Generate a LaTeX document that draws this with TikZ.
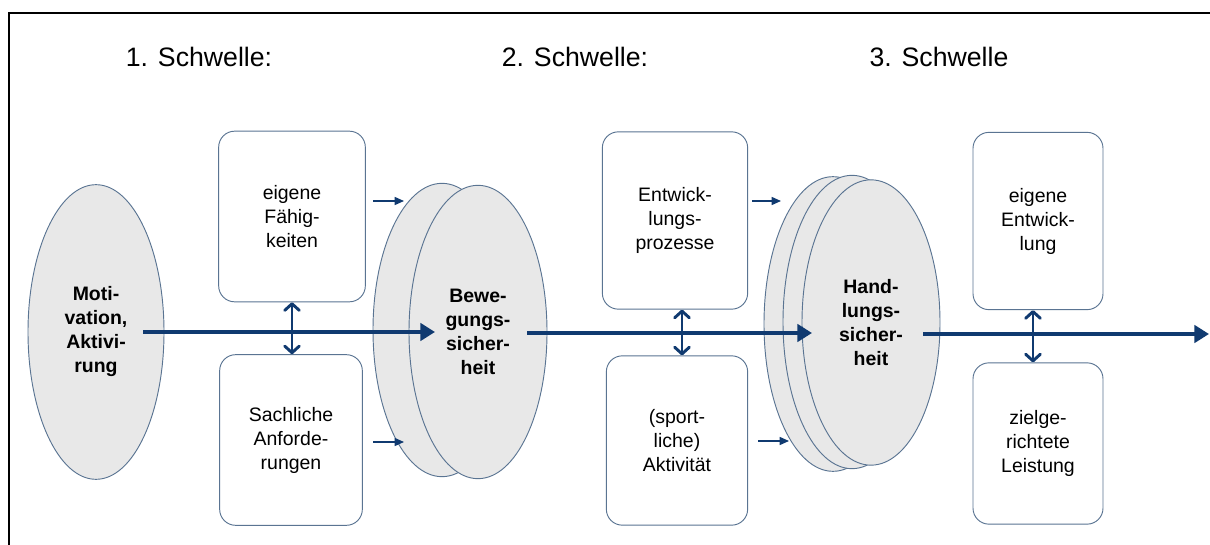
\documentclass[tikz,border=0pt]{standalone}
\usepackage{fontspec}
\setmainfont{Liberation Sans}
\usetikzlibrary{shapes.geometric,arrows.meta}
\definecolor{navy}{HTML}{103A70}
\definecolor{edge}{HTML}{5A7492}
\definecolor{ellfill}{HTML}{E8E8E8}
\tikzset{
  ell/.style={ellipse,draw=edge,fill=ellfill,line width=0.7pt,inner sep=0pt,
    minimum width=103.5pt,minimum height=218pt,align=center,
    font=\fontsize{14.6pt}{18pt}\selectfont\bfseries},
  box/.style={rectangle,rounded corners=12pt,draw=edge,fill=white,line width=0.7pt,
    inner sep=0pt,minimum width=108pt,minimum height=128pt,align=center,
    font=\fontsize{14.6pt}{18pt}\selectfont},
  title/.style={font=\fontsize{20pt}{24pt}\selectfont,inner sep=0pt},
  mainarr/.style={navy,line width=3pt,-{Triangle[length=11pt,width=13pt]}},
  dblarr/.style={navy,line width=2.2pt,{Straight Barb[length=5pt,width=11pt,line cap=round,line join=round]}-{Straight Barb[length=5pt,width=11pt,line cap=round,line join=round]}},
  smallarr/.style={navy,line width=1.1pt,-{Triangle[length=7pt,width=6pt]}},
}
\begin{document}
\begin{tikzpicture}[x=0.75pt,y=-0.75pt]
\useasboundingbox (0,0) rectangle (1210,545);
% frame
\draw[line width=2pt] (1210,13) -- (9,13) -- (9,546);
% titles
\node[title] (t1) at (199,57) {1. Schwelle:};
\node[title] (t2) at (575,57) {2. Schwelle:};
\node[title] (t3) at (939,57) {3. Schwelle};
% Motivation
\node[ell,minimum width=102pt,minimum height=221pt] (mot) at (96,332) {Moti-\\vation,\\Aktivi-\\rung};
% boxes stage 1
\node[box,minimum width=110pt,minimum height=128pt] (b1) at (292,216.5) {eigene\\Fähig-\\keiten};
\node[box,minimum width=107pt,minimum height=128pt] (b2) at (291,440) {Sachliche\\Anforde-\\rungen};
% Bewegungssicherheit
\node[ell,minimum height=220pt] (bewb) at (442,330) {};
\node[ell,minimum height=220pt] (bew) at (478,332) {Bewe-\\gungs-\\sicher-\\heit};
% boxes stage 2
\node[box,minimum width=109pt,minimum height=133pt] (b3) at (675,220.5) {Entwick-\\lungs-\\prozesse};
\node[box,minimum width=106pt,minimum height=127pt] (b4) at (677,440.5) {(sport-\\liche)\\Aktivität};
% Handlungssicherheit
\node[ell,minimum height=221pt] (hanb) at (833,324) {};
\node[ell,minimum height=220pt] (hanm) at (852,322) {};
\node[ell,minimum height=214pt] (han) at (871,322.5) {Hand-\\lungs-\\sicher-\\heit};
% boxes stage 3
\node[box,minimum width=97.5pt,minimum height=133pt] (b5) at (1038,221) {eigene\\Entwick-\\lung};
\node[box,minimum width=97.5pt,minimum height=121pt] (b6) at (1038,443.5) {zielge-\\richtete\\Leistung};
% coordinates for connectors
\coordinate (m1s) at (143,332);
\coordinate (m1e) at (435,332);
\coordinate (m2s) at (527,333);
\coordinate (m2e) at (812,333);
\coordinate (m3s) at (923,334);
\coordinate (m3e) at (1209,334);
\coordinate (s1s) at (373,201); \coordinate (s1e) at (404,201);
\coordinate (s2s) at (373,442); \coordinate (s2e) at (404,442);
\coordinate (s3s) at (752,201); \coordinate (s3e) at (781,201);
\coordinate (s4s) at (758,441); \coordinate (s4e) at (789,441);
% main arrows
\draw[mainarr] (m1s) -- (m1e);
\draw[mainarr] (m2s) -- (m2e);
\draw[mainarr] (m3s) -- (m3e);
% double arrows
\draw[dblarr] (b1.south) -- (b1.south |- b2.north);
\draw[dblarr] (b3.south -| 682,0) -- (b4.north -| 682,0);
\draw[dblarr] (b5.south -| 1033,0) -- (b6.north -| 1033,0);
% small arrows
\draw[smallarr] (s1s) -- (s1e);
\draw[smallarr] (s2s) -- (s2e);
\draw[smallarr] (s3s) -- (s3e);
\draw[smallarr] (s4s) -- (s4e);
\end{tikzpicture}
\end{document}
